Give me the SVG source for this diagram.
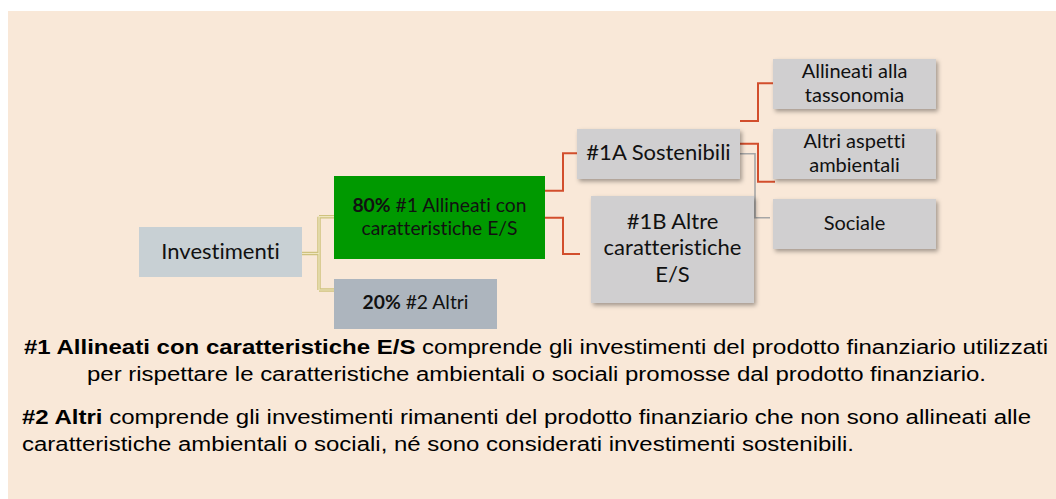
<svg xmlns="http://www.w3.org/2000/svg" width="1056" height="499" viewBox="0 0 1056 499">
<defs>
<filter id="sh" x="-10%" y="-10%" width="125%" height="130%">
<feDropShadow dx="2" dy="2.5" stdDeviation="2" flood-color="#000" flood-opacity="0.35"/>
</filter>
<style>
.nt{font-family:Lato,"Liberation Sans",sans-serif;font-size:22px;fill:#111;text-anchor:middle;font-variant-ligatures:none}
.sm{font-size:20px}
.md{font-size:19.3px}
.gb{fill:#d0cfd0;filter:url(#sh)}
.red{fill:none;stroke:#d24e2c;stroke-width:2}
.gray{fill:none;stroke:#a6a6a6;stroke-width:1.6}
.gold{fill:none;stroke:#cfc27e;stroke-width:3.5}
.goldin{fill:none;stroke:#efe6c0;stroke-width:1.2}
.ft{font-family:"Liberation Sans",Arial,sans-serif;font-size:20px;fill:#000}
</style>
</defs>
<rect x="0" y="0" width="1056" height="499" fill="#fff"/>
<rect x="8" y="11" width="1048" height="488" fill="#f9e8d8"/>

<g id="connectors">
<path class="gold" d="M302,253.5 H319 M319,216.7 V290 M319,216.7 H334 M319,290 H334"/>
<path class="goldin" d="M302,253.5 H319 M319,216.7 V290 M319,216.7 H334 M319,290 H334"/>
<path class="red" d="M545,190.7 H563 V153.3 H577"/>
<path class="red" d="M545,217.7 H563 V254 H580"/>
<path class="red" d="M740,121 H758 V83.3 H773"/>
<path class="red" d="M740,143.7 H758 V181.7 H775"/>
<path class="gray" d="M740,153.7 H755 V217.7 H770"/>
</g>

<g id="investimenti">
<rect x="139" y="227" width="163" height="50" fill="#c8d0d4"/>
<text class="nt" x="220.5" y="259">Investimenti</text>
</g>

<g id="n80">
<rect x="334" y="176" width="211" height="83" fill="#009900"/>
<text class="nt md" x="439.5" y="212"><tspan font-weight="bold">80%</tspan> #1 Allineati con</text>
<text class="nt md" x="439.5" y="235">caratteristiche E/S</text>
</g>

<g id="n20">
<rect x="334" y="279" width="163" height="50" fill="#adb5be"/>
<text class="nt md" x="415.5" y="309"><tspan font-weight="bold">20%</tspan> #2 Altri</text>
</g>

<g id="n1a">
<rect class="gb" x="577" y="129" width="163" height="50"/>
<text class="nt" x="658.5" y="160">#1A Sostenibili</text>
</g>

<g id="n1b">
<rect class="gb" x="591" y="196" width="163" height="107"/>
<text class="nt" x="672.5" y="229">#1B Altre</text>
<text class="nt" x="672.5" y="255">caratteristiche</text>
<text class="nt" x="672.5" y="282">E/S</text>
</g>

<g id="tassonomia">
<rect class="gb" x="773" y="59" width="163" height="50"/>
<text class="nt sm" x="854.5" y="78">Allineati alla</text>
<text class="nt sm" x="854.5" y="102">tassonomia</text>
</g>

<g id="ambientali">
<rect class="gb" x="773" y="129" width="163" height="50"/>
<text class="nt sm" x="854.5" y="148">Altri aspetti</text>
<text class="nt sm" x="854.5" y="172">ambientali</text>
</g>

<g id="sociale">
<rect class="gb" x="773" y="199" width="163" height="50"/>
<text class="nt sm" x="854.5" y="230">Sociale</text>
</g>

<g id="legend">
<text class="ft" x="24" y="354" textLength="1024" lengthAdjust="spacingAndGlyphs"><tspan font-weight="bold">#1 Allineati con caratteristiche E/S</tspan> comprende gli investimenti del prodotto finanziario utilizzati</text>
<text class="ft" x="87" y="381" textLength="899" lengthAdjust="spacingAndGlyphs">per rispettare le caratteristiche ambientali o sociali promosse dal prodotto finanziario.</text>
<text class="ft" x="22" y="424" textLength="1009" lengthAdjust="spacingAndGlyphs"><tspan font-weight="bold">#2 Altri</tspan> comprende gli investimenti rimanenti del prodotto finanziario che non sono allineati alle</text>
<text class="ft" x="22" y="451" textLength="832" lengthAdjust="spacingAndGlyphs">caratteristiche ambientali o sociali, né sono considerati investimenti sostenibili.</text>
</g>
</svg>
